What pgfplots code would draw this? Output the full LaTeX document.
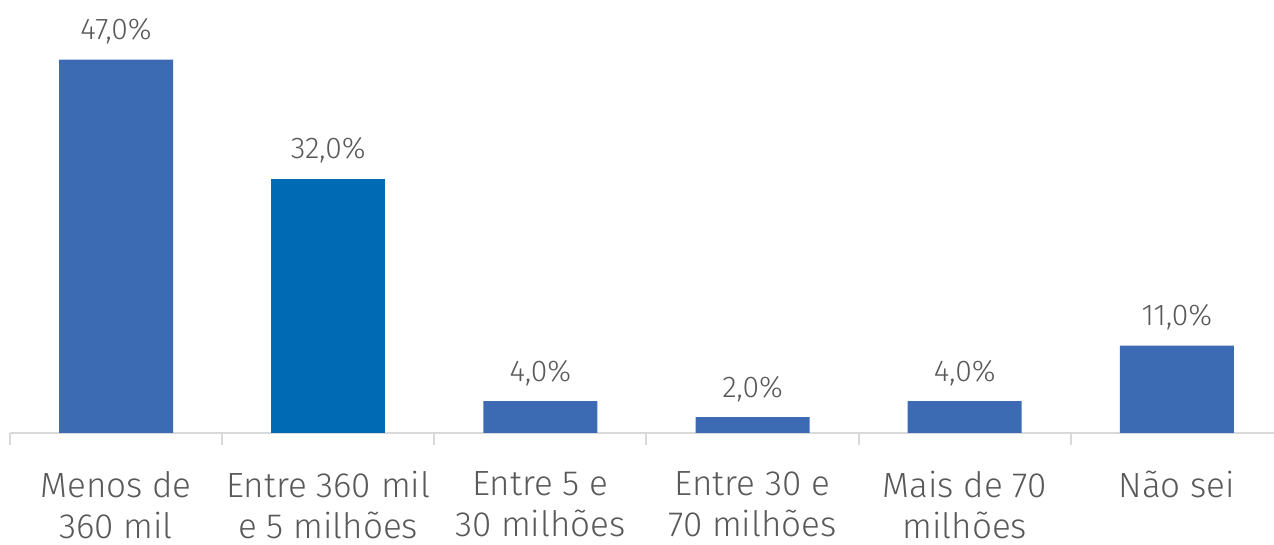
\documentclass[border=0pt]{standalone}
\usepackage{pgfplots}
\pgfplotsset{compat=1.18}
\usepackage{fontspec}
\setmainfont{Fira Sans}[UprightFont=* Light]
\definecolor{barA}{HTML}{3D6BB3}
\definecolor{barB}{HTML}{006AB4}
\definecolor{txt}{HTML}{595959}
\definecolor{axc}{HTML}{D9D9D9}
\begin{document}
\begin{tikzpicture}
\useasboundingbox (-10pt,-112pt) rectangle (1264pt,433pt);
\begin{axis}[
  at={(0,0)}, anchor=south west,
  scale only axis, width=1273pt, height=433pt,
  xmin=-0.5, xmax=5.5, ymin=0, ymax=54.5,
  axis x line=bottom, axis y line=none,
  axis line style={draw=axc, line width=2pt, -},
  xtick={0,...,5},
  xticklabels={{Menos de\\360 mil},{Entre 360 mil\\e 5 milhões},{Entre 5 e\\30 milhões},{Entre 30 e\\70 milhões},{Mais de 70\\milhões},{Não sei}},
  major tick length=0pt,
  minor xtick={-0.5,0.5,...,5.5},
  minor tick length=12pt,
  tick align=outside,
  minor tick style={draw=axc, line width=2pt},
  xticklabel style={align=center, text=txt, font=\fontsize{35}{41}\selectfont, inner sep=0pt, yshift=-38pt},
  nodes near coords,
  point meta=explicit symbolic,
  every node near coord/.append style={text=txt, font=\fontsize{30}{34}\selectfont, inner sep=0pt, anchor=base, yshift=20pt},
  clip=false,
]
\addplot[ybar, bar width=114pt, fill=barA, draw=none] table[meta=lab] {
x y lab
0 47 {47,0\%}
2 4 {4,0\%}
3 2 {2,0\%}
4 4 {4,0\%}
5 11 {11,0\%}
};
\addplot[ybar, bar width=114pt, fill=barB, draw=none] table[meta=lab] {
x y lab
1 32 {32,0\%}
};
\end{axis}
\end{tikzpicture}
\end{document}
